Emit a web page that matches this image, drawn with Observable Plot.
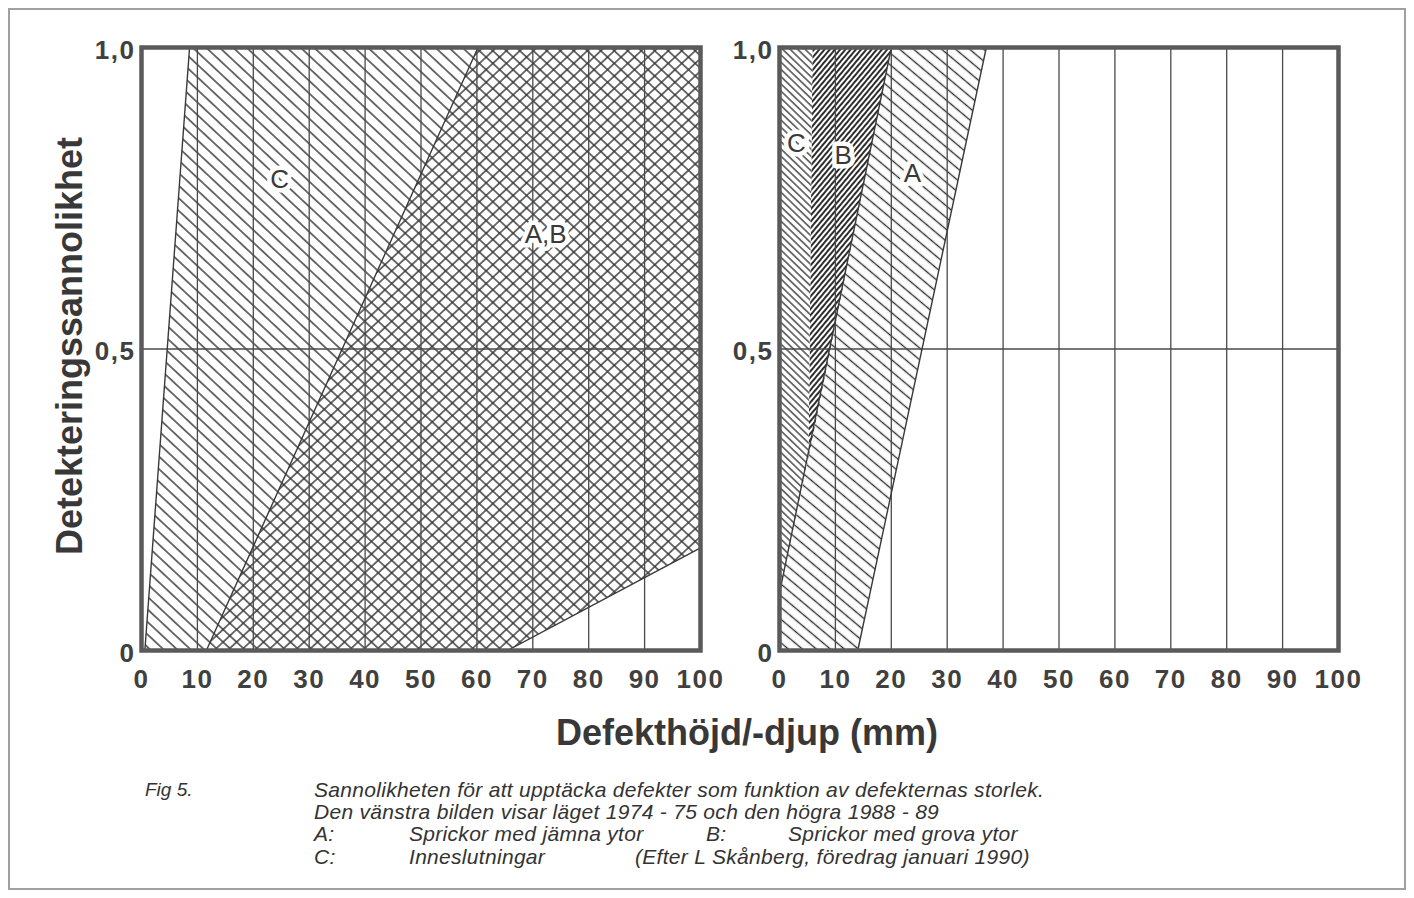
<!DOCTYPE html>
<html><head><meta charset="utf-8">
<script src="https://cdn.jsdelivr.net/npm/d3@7"></script>
<script src="https://cdn.jsdelivr.net/npm/@observablehq/plot@0.6"></script>
<style>
html,body{margin:0;padding:0;background:#fff;}
body{width:1414px;height:898px;position:relative;overflow:hidden;font-family:"Liberation Sans",Arial,Helvetica,sans-serif;}
#border{position:absolute;left:8px;top:8px;width:1398px;height:882px;border:2px solid #a0a0a0;box-sizing:border-box;}
#chart{position:absolute;left:0;top:0;}
#chart g[aria-label$="tick label"] text{letter-spacing:1.5px;}
#xlabel{position:absolute;left:447px;width:600px;top:713px;text-align:center;font-weight:bold;font-size:36px;line-height:40px;color:#383838;}
.cap{position:absolute;font-style:italic;font-size:21px;letter-spacing:0.3px;color:#333;white-space:nowrap;line-height:20px;}
.cap.fig{font-size:19px;letter-spacing:0;}
</style></head>
<body>
<div id="border"></div>
<div id="chart"></div>
<div id="xlabel"></div>
<div id="caption"></div>
<script>
// ---- data ----
const panels = ["1974-75", "1988-89"];
const xTicks = [0, 10, 20, 30, 40, 50, 60, 70, 80, 90, 100];
const gridX = [10, 20, 30, 40, 50, 60, 70, 80, 90];
const gridY = [0.5];
const yTicks = [0, 0.5, 1];
const yTickLabels = ["0", "0,5", "1,0"];
const xLabel = "Defekthöjd/-djup (mm)";
const yLabel = "Detekteringssannolikhet";

// left panel (1974-75): region polygons [x (mm), probability]
const leftC  = [[0.6, 0], [8.6, 1], [100, 1], [100, 0.17], [65.5, 0]];
const leftAB = [[11.6, 0], [60.2, 1], [100, 1], [100, 0.17], [65.5, 0]];
// right panel (1988-89)
const rightA = [[0, 0], [14, 0], [37, 1], [20, 1], [0, 0.095]];
const rightB = [[5.2, 0.32], [20, 1], [5.9, 1]];
const rightC = [[0, 0.095], [5.2, 0.32], [5.9, 1], [0, 1]];

const labels = [
  {panel: panels[0], x: 24.7, y: 0.78, text: "C"},
  {panel: panels[0], x: 72.3, y: 0.69, text: "A,B"},
  {panel: panels[1], x: 3.0, y: 0.84, text: "C"},
  {panel: panels[1], x: 11.4, y: 0.82, text: "B"},
  {panel: panels[1], x: 23.8, y: 0.79, text: "A"}
];

const captionLines = [
  {x: 145, y: 790, t: "Fig 5.", cls: "fig"},
  {x: 314, y: 790, t: "Sannolikheten för att upptäcka defekter som funktion av defekternas storlek."},
  {x: 314, y: 812, t: "Den vänstra bilden visar läget 1974 - 75 och den högra 1988 - 89"},
  {x: 314, y: 834, t: "A:"}, {x: 409, y: 834, t: "Sprickor med jämna ytor"},
  {x: 706, y: 834, t: "B:"}, {x: 788, y: 834, t: "Sprickor med grova ytor"},
  {x: 314, y: 857, t: "C:"}, {x: 409, y: 857, t: "Inneslutningar"},
  {x: 635, y: 857, t: "(Efter L Skånberg, föredrag januari 1990)"}
];

const rows = (pts, panel) => pts.map(([x, y]) => ({x, y, panel}));

const ink = "#3a3a3a";
const poly = (pts, panel, fill) => Plot.line(rows(pts, panel), {x: "x", y: "y", fx: "panel", fill, stroke: "none"});
const edge = (pts, panel) => Plot.line(rows(pts, panel), {x: "x", y: "y", fx: "panel", stroke: ink, strokeWidth: 1.4});

const chart = Plot.plot({
  width: 1414,
  height: 705,
  marginLeft: 141,
  marginRight: 76,
  marginTop: 47,
  marginBottom: 55,
  style: {fontFamily: "'Liberation Sans', Arial, Helvetica, sans-serif", background: "transparent"},
  fx: {domain: panels, paddingInner: 79 / 638, paddingOuter: 0, axis: null, label: null},
  x: {domain: [0, 100], label: null},
  y: {domain: [0, 1], label: null},
  marks: [
    poly(leftC, panels[0], "url(#hatchBack)"),
    poly(leftAB, panels[0], "url(#hatchFwd)"),
    poly(rightA, panels[1], "url(#hatchA)"),
    poly(rightB, panels[1], "url(#hatchB)"),
    poly(rightC, panels[1], "url(#hatchC)"),
    Plot.ruleX(gridX, {x: d => d, stroke: "#4a4a4a", strokeWidth: 1.3}),
    Plot.ruleY(gridY, {y: d => d, stroke: "#4a4a4a", strokeWidth: 1.3}),
    edge(leftC.slice(0, 2), panels[0]),
    edge(leftAB.slice(0, 2), panels[0]),
    edge(leftC.slice(3, 5), panels[0]),
    edge(rightA.slice(1, 3), panels[1]),
    edge([rightA[4], rightB[1]], panels[1]),
    Plot.text(labels, {x: "x", y: "y", fx: "panel", text: "text", fontSize: 26, fill: "#3a3a3a",
      stroke: "white", strokeWidth: 9, fontWeight: "normal"}),
    Plot.frame({stroke: "#5a5a5a", strokeWidth: 4.5}),
    Plot.axisX(xTicks, {tickSize: 0, tickPadding: 19, fontSize: 26, fontWeight: "bold", color: "#404040", label: null}),
    Plot.axisY(yTicks, {tickSize: 0, tickPadding: 6, dy: 3, fontSize: 26, fontWeight: "bold", color: "#404040", label: null,
      facetAnchor: null, tickFormat: d => yTickLabels[yTicks.indexOf(d)]}),
    Plot.text([{panel: panels[0]}], {fx: "panel", frameAnchor: "left", dx: -71, dy: -3, rotate: -90, textAnchor: "middle",
      text: () => yLabel, fontSize: 36, fontWeight: "bold", fill: "#383838"})
  ]
});

const defs = `
<pattern id="hatchBack" patternUnits="userSpaceOnUse" width="9.2" height="20" patternTransform="rotate(-47)">
  <line x1="4.6" y1="-1" x2="4.6" y2="21" stroke="#333" stroke-width="1.4"/></pattern>
<pattern id="hatchFwd" patternUnits="userSpaceOnUse" width="9.2" height="20" patternTransform="rotate(47)">
  <line x1="4.6" y1="-1" x2="4.6" y2="21" stroke="#333" stroke-width="1.4"/></pattern>
<pattern id="hatchA" patternUnits="userSpaceOnUse" width="9" height="20" patternTransform="rotate(-50)">
  <line x1="4.5" y1="-1" x2="4.5" y2="21" stroke="#333" stroke-width="1.4"/></pattern>
<pattern id="hatchB" patternUnits="userSpaceOnUse" width="4" height="20" patternTransform="rotate(40)">
  <rect x="-1" y="-1" width="7" height="22" fill="white"/>
  <line x1="2" y1="-1" x2="2" y2="21" stroke="#222" stroke-width="1.9"/></pattern>
<pattern id="hatchC" patternUnits="userSpaceOnUse" width="5.2" height="20" patternTransform="rotate(-46)">
  <rect x="-1" y="-1" width="8" height="22" fill="white"/>
  <line x1="2.6" y1="-1" x2="2.6" y2="21" stroke="#333" stroke-width="1.3"/></pattern>`;
d3.select(chart).insert("defs", ":first-child").html(defs);
document.getElementById("chart").append(chart);

document.getElementById("xlabel").textContent = xLabel;
const cap = document.getElementById("caption");
for (const c of captionLines) {
  const d = document.createElement("div");
  d.className = "cap" + (c.cls ? " " + c.cls : "");
  d.style.left = c.x + "px";
  d.style.top = (c.y - 10) + "px";
  d.textContent = c.t;
  cap.append(d);
}
</script>
</body></html>
